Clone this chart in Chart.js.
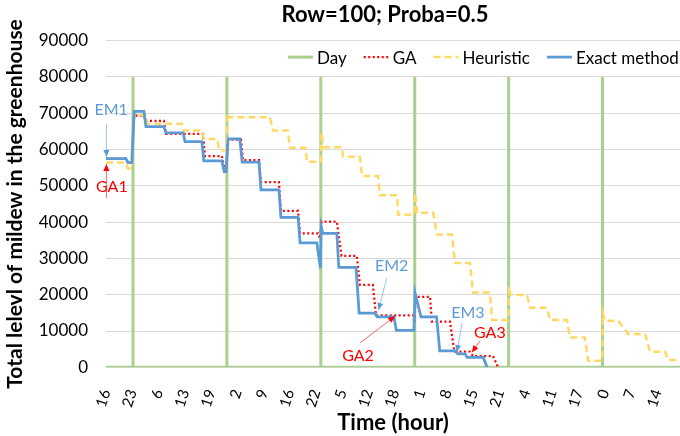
<!DOCTYPE html>
<html>
<head>
<meta charset="utf-8">
<title>Row=100; Proba=0.5</title>
<script src="https://cdn.jsdelivr.net/npm/chart.js@4.4.1/dist/chart.umd.min.js"></script>
<style>
    html, body { margin: 0; padding: 0; background: #fff; }
    #wrap { width: 680px; height: 436px; position: relative; }
</style>
</head>
<body>
<div id="wrap"><canvas id="chart"></canvas></div>
<script>
// Data (x in hours since the first midnight before the run)

// X tick labels (hour of the day), one every ~6.7 h
const tickLabels = ['16', '23', '6', '13', '19', '2', '9', '16', '22', '5', '12',
    '18', '1', '8', '15', '21', '4', '11', '17', '0', '7', '14'];
const firstTick = 17.1;
const tickEvery = 6.71;

// Day boundaries (drawn as spikes up to 80000)
const dayHours = [17.1, 24, 24, 24, 48, 48, 48, 72, 72, 72, 96, 96, 96, 120, 120, 120, 144, 144, 144, 164.5];
const dayValues = [0, 0, 80000, 0, 0, 80000, 0, 0, 80000, 0, 0, 80000, 0, 0, 80000, 0, 0, 80000, 0, 0];

// GA
const gaHours = [17.1, 22.2, 22.7, 23.7, 24.3, 26.8, 27.3, 31.9, 32.4, 41.9, 42.4, 46.7,
    47.3, 47.8, 48.3, 51.6, 52.1, 56.2, 56.7, 61.3, 61.8, 66.2, 66.7, 71.3,
    71.8, 72.2, 76.1, 77.3, 81.2, 82.0, 85.3, 86.1, 95.6, 95.9, 96.3, 99.9,
    100.4, 105.0, 106.0, 106.3, 110.1, 110.9, 116.0, 117.3];
const gaValues = [57500, 57500, 56400, 56400, 69300, 69300, 67900, 67900, 64300, 64300, 58200, 58200,
    55000, 55000, 62700, 62700, 57100, 57100, 51000, 51000, 43100, 43100, 36900, 36900,
    35500, 40100, 40100, 30700, 30700, 22700, 22700, 14300, 14300, 12300, 19400, 19400,
    12600, 12600, 5300, 4300, 4300, 3100, 3100, 0];

// Heuristic
const heurHours = [17.1, 22.2, 22.7, 23.7, 24.3, 27.1, 27.8, 36.5, 37.0, 41.6, 42.1, 45.5, 46.0,
    47.8, 48.2, 48.5, 59.0, 59.8, 63.6, 64.1, 68.0, 68.5, 72.0, 72.2, 72.6, 77.4, 77.7,
    82.0, 82.5, 86.6, 87.1, 91.5, 91.8, 95.8, 96.1, 96.6, 100.7, 101.7, 105.5, 106.3,
    110.1, 110.9, 115.2, 115.8, 119.9, 120.1, 120.4, 124.7, 125.5, 129.8, 130.6, 134.9,
    135.7, 139.5, 140.3, 143.9, 144.1, 144.6, 148.0, 150.5, 154.9, 156.1, 160.0, 160.7, 164.5];
const heurValues = [56400, 56400, 54800, 54800, 69500, 69500, 67100, 67100, 65200, 65200, 62900, 62900, 59800,
    59800, 70000, 68900, 68900, 65200, 65200, 60500, 60500, 56600, 56600, 64600, 60600, 60600, 58000,
    58000, 52700, 52700, 47400, 47400, 42000, 42000, 48000, 42600, 42600, 36600, 36600, 28700,
    28700, 20600, 20600, 13000, 13000, 22200, 19900, 19900, 16400, 16400, 13000, 13000,
    8200, 8200, 1800, 1800, 14900, 12800, 12800, 9200, 9200, 4300, 4300, 2000, 2000];

// Exact method
const exactHours = [17.1, 22.2, 22.7, 23.7, 24.3, 26.8, 27.3, 31.9, 32.4, 36.8, 37.3, 41.6,
    42.1, 46.7, 47.3, 47.8, 48.3, 51.3, 51.9, 56.2, 56.7, 61.3, 61.8, 66.2,
    66.7, 71.0, 71.9, 72.1, 72.5, 76.1, 76.6, 81.0, 81.8, 85.8, 86.4, 90.7,
    91.3, 95.8, 96.1, 97.6, 101.6, 102.4, 106.5, 107.0, 108.9, 109.4, 113.5, 114.5];
const exactValues = [57500, 57500, 56400, 56400, 70500, 70500, 66300, 66300, 64600, 64600, 62200, 62200,
    56900, 56900, 53900, 53900, 62900, 62900, 56500, 56500, 48900, 48900, 41300, 41300,
    34300, 34300, 27300, 38700, 36900, 36900, 27500, 27500, 14900, 14900, 13900, 13900,
    10200, 10200, 20400, 13900, 13900, 4500, 4500, 3700, 3700, 2700, 2700, 0];

// Callouts: label position and arrow (from -> tip), in data units
const callouts = [
    { text: 'EM1', color: '#5B9BD5', x: 18.4, y: 70900, from: [17.2, 67000], to: [17.2, 57900] },
    { text: 'GA1', color: '#FF0000', x: 18.6, y: 49800, from: [17.2, 46600], to: [17.2, 56000] },
    { text: 'EM2', color: '#5B9BD5', x: 90.1, y: 27900, from: [88.85, 24600], to: [86.75, 15800] },
    { text: 'GA2', color: '#FF0000', x: 81.5, y: 3100, from: [82.0, 6700], to: [91.0, 14100] },
    { text: 'EM3', color: '#5B9BD5', x: 109.6, y: 15100, from: [108.1, 12200], to: [106.8, 4200] },
    { text: 'GA3', color: '#FF0000', x: 115.2, y: 9600, from: [112.7, 7300], to: [110.6, 4100] }
];

const FONT = "Lato, 'Open Sans', sans-serif";

function toPoints(xs, ys) {
    return xs.map((x, i) => ({ x: x, y: ys[i] }));
}

// Title sits a bit left of the plot centre in the original
const titleShift = {
    id: 'titleShift',
    afterLayout(chart) {
        const t = chart.titleBlock;
        if (t) {
            t.left -= 8;
            t.right -= 8;
        }
    }
};

// Legend drawn inside the plot, in the order of the original
const insideLegend = {
    id: 'insideLegend',
    afterDraw(chart) {
        const ctx = chart.ctx;
        const area = chart.chartArea;
        const order = ['Day', 'GA', 'Heuristic', 'Exact method'];
        let x = area.left + 182;
        const y = area.top + 16.5;
        ctx.save();
        ctx.font = '17px ' + FONT;
        ctx.textBaseline = 'middle';
        order.forEach(name => {
            const ds = chart.data.datasets.find(d => d.label === name);
            ctx.beginPath();
            ctx.strokeStyle = ds.borderColor;
            ctx.lineWidth = ds.borderWidth;
            ctx.setLineDash(ds.borderDash || []);
            ctx.moveTo(x, y);
            ctx.lineTo(x + 25, y);
            ctx.stroke();
            ctx.setLineDash([]);
            ctx.fillStyle = '#000';
            ctx.fillText(name, x + 29, y + 1);
            x += 29 + ctx.measureText(name).width + 17;
        });
        ctx.restore();
    }
};

// EM / GA callouts with arrows
const calloutPlugin = {
    id: 'callouts',
    afterDatasetsDraw(chart) {
        const ctx = chart.ctx;
        const sx = chart.scales.x, sy = chart.scales.y;
        ctx.save();
        callouts.forEach(c => {
            const x1 = sx.getPixelForValue(c.from[0]), y1 = sy.getPixelForValue(c.from[1]);
            const x2 = sx.getPixelForValue(c.to[0]), y2 = sy.getPixelForValue(c.to[1]);
            ctx.globalAlpha = 0.6;
            ctx.strokeStyle = c.color;
            ctx.lineWidth = 1;
            ctx.beginPath();
            ctx.moveTo(x1, y1);
            ctx.lineTo(x2, y2);
            ctx.stroke();
            ctx.globalAlpha = 1;
            const a = Math.atan2(y2 - y1, x2 - x1);
            const len = 7, half = 3;
            ctx.fillStyle = c.color;
            ctx.beginPath();
            ctx.moveTo(x2, y2);
            ctx.lineTo(x2 - len * Math.cos(a) + half * Math.sin(a), y2 - len * Math.sin(a) - half * Math.cos(a));
            ctx.lineTo(x2 - len * Math.cos(a) - half * Math.sin(a), y2 - len * Math.sin(a) + half * Math.cos(a));
            ctx.closePath();
            ctx.fill();

            ctx.font = '16px ' + FONT;
            ctx.textAlign = 'center';
            ctx.textBaseline = 'middle';
            ctx.fillText(c.text, sx.getPixelForValue(c.x), sy.getPixelForValue(c.y));
        });
        ctx.restore();
    }
};

function buildChart() {
    Chart.defaults.font.family = FONT;
    Chart.defaults.color = '#000';

    new Chart(document.getElementById('chart'), {
        type: 'line',
        data: {
            datasets: [
                { label: 'Exact method', data: toPoints(exactHours, exactValues), borderColor: '#5B9BD5', borderWidth: 2.75 },
                { label: 'Heuristic', data: toPoints(heurHours, heurValues), borderColor: '#FFD966', borderWidth: 2.5, borderDash: [7, 4] },
                { label: 'GA', data: toPoints(gaHours, gaValues), borderColor: '#FF0000', borderWidth: 2.25, borderDash: [2, 2.5] },
                { label: 'Day', data: toPoints(dayHours, dayValues), borderColor: '#A9D18E', borderWidth: 3 }
            ]
        },
        options: {
            responsive: true,
            maintainAspectRatio: false,
            devicePixelRatio: 1,
            animation: false,
            layout: { padding: 0 },
            elements: {
                point: { radius: 0, hoverRadius: 0 },
                line: { tension: 0, fill: false, borderJoinStyle: 'miter' }
            },
            plugins: {
                legend: { display: false },
                tooltip: { enabled: false },
                title: {
                    display: true,
                    text: 'Row=100; Proba=0.5',
                    fullSize: false,
                    font: { size: 22, weight: 'bold', lineHeight: 1.2 },
                    padding: { top: 1.8, bottom: 12.4 }
                }
            },
            scales: {
                x: {
                    type: 'linear',
                    min: 17.1,
                    max: 163.8,
                    grid: { display: false },
                    border: { display: false },
                    afterBuildTicks(scale) {
                        scale.ticks = tickLabels.map((_, i) => ({ value: firstTick + i * tickEvery }));
                    },
                    afterFit(scale) {
                        scale.height = 68.7;
                        scale.paddingLeft = 0;
                        scale.paddingRight = 0;
                    },
                    ticks: {
                        autoSkip: false,
                        minRotation: 72,
                        maxRotation: 72,
                        padding: 12,
                        font: { size: 15 },
                        callback: (value, index) => tickLabels[index]
                    },
                    title: {
                        display: true,
                        text: 'Time (hour)',
                        font: { size: 22, weight: 'bold', lineHeight: 1.2 },
                        padding: { top: 0, bottom: 0 }
                    }
                },
                y: {
                    min: 0,
                    max: 90000,
                    grid: { color: '#D9D9D9', drawTicks: false },
                    border: { display: false },
                    afterFit(scale) {
                        scale.width = 106;
                    },
                    ticks: {
                        stepSize: 10000,
                        padding: 18,
                        font: { size: 17 },
                        callback: (value) => String(value)
                    },
                    title: {
                        display: true,
                        text: 'Total lelevl of mildew in the greenhouse',
                        font: { size: 21, weight: 'bold', lineHeight: 1.2 },
                        padding: { top: 2.9, bottom: 0 }
                    }
                }
            }
        },
        plugins: [titleShift, calloutPlugin, insideLegend]
    });
}

Promise.all([
    document.fonts.load('17px Lato'),
    document.fonts.load('bold 19px Lato')
]).then(buildChart, buildChart);
</script>
</body>
</html>
